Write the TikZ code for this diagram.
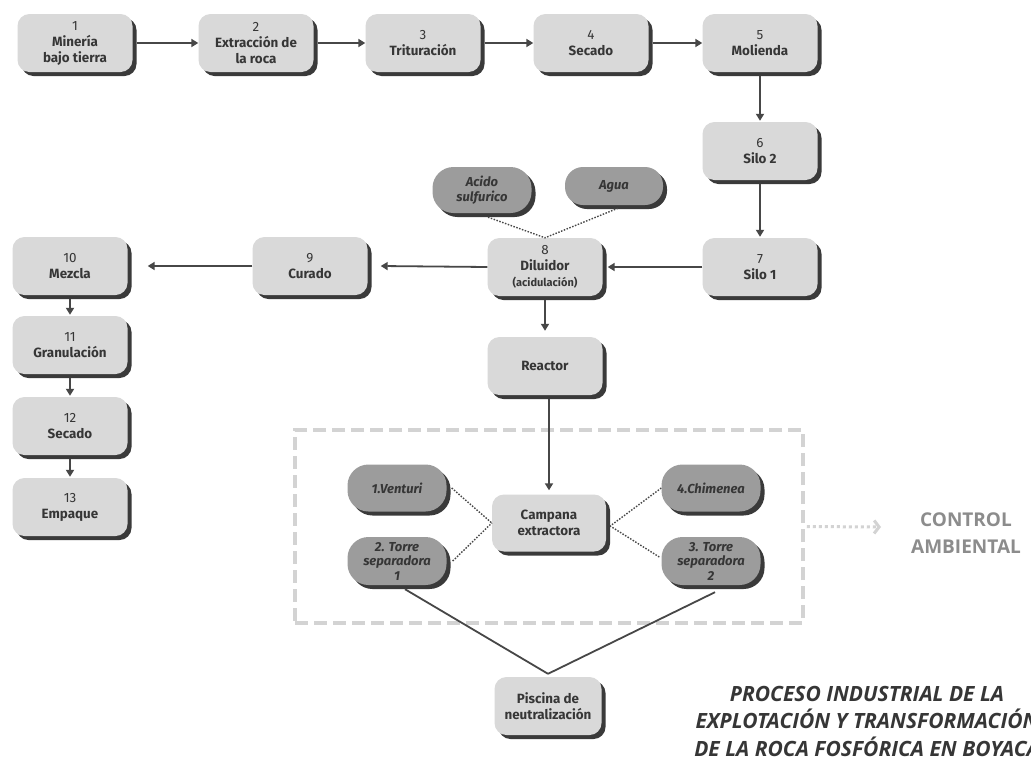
\documentclass[tikz,border=0pt]{standalone}
\usepackage{fontspec}
\setmainfont{Fira Sans}
\newfontfamily\titlefont{Open Sans}
\usetikzlibrary{shadows,arrows.meta,calc}
\definecolor{boxfill}{HTML}{D9D9D9}
\definecolor{pillfill}{HTML}{9C9C9C}
\definecolor{shadowc}{HTML}{3A3A3A}
\definecolor{txt}{HTML}{363636}
\definecolor{linec}{HTML}{474747}
\definecolor{ctrlc}{HTML}{D3D3D3}
\definecolor{ctrltxt}{HTML}{8C8C8C}
\begin{document}
\begin{tikzpicture}[x=1pt,y=-1pt,
  box/.style={rectangle, rounded corners=12pt, fill=boxfill, minimum width=115pt, minimum height=58pt,
    inner sep=2pt, align=center, text=txt, font=\fontsize{13.4}{16}\selectfont,
    drop shadow={shadow xshift=4pt, shadow yshift=-4pt, fill=shadowc, opacity=1}},
  pill/.style={rectangle, rounded corners=21pt, fill=pillfill, minimum width=99pt, minimum height=47pt,
    inner sep=2pt, align=center, text=txt, font=\bfseries\itshape\fontsize{13}{14.5}\selectfont,
    drop shadow={shadow xshift=4pt, shadow yshift=-4pt, fill=shadowc, opacity=1}},
  flow/.style={draw=linec, line width=1.8pt, -{Triangle[length=7pt,width=8pt]}},
  link/.style={draw=linec, line width=1.4pt, dash pattern=on 1.5pt off 1.5pt},
  pipe/.style={draw=linec, line width=1.8pt},
  ctrlbox/.style={draw=ctrlc, line width=3.5pt, dash pattern=on 13pt off 6pt, minimum width=508pt, minimum height=193pt, inner sep=0pt},
  ctrlarrow/.style={draw=ctrlc, line width=3pt, dash pattern=on 3pt off 3pt, -{Straight Barb[length=5pt,width=13pt,line width=3pt]}}
]
\useasboundingbox (0,0) rectangle (1031,758);
\fill[white] (0,0) rectangle (1031,758);

% control box
\node[ctrlbox] (ctrl) at (549,526.5) {};

% top row
\node[box] (n1) at (75,43) {1\\\textbf{Minería}\\\textbf{bajo tierra}};
\node[box] (n2) at (256,43) {2\\\textbf{Extracción de}\\\textbf{la roca}};
\node[box] (n3) at (423,43) {3\\\textbf{Trituración}};
\node[box] (n4) at (591,43) {4\\\textbf{Secado}};
\node[box] (n5) at (760,43) {5\\\textbf{Molienda}};
\node[box] (n6) at (760,151) {6\\\textbf{Silo 2}};
\node[box] (n7) at (760,267) {7\\\textbf{Silo 1}};
\node[box] (n8) at (545,267) {8\\\textbf{Diluidor}\\{\bfseries\fontsize{11}{12.5}\selectfont (acidulación)}};
\node[box] (n9) at (310,266) {9\\\textbf{Curado}};
\node[box] (n10) at (70,266) {10\\\textbf{Mezcla}};
\node[box] (n11) at (70,345) {11\\\textbf{Granulación}};
\node[box] (n12) at (70,426) {12\\\textbf{Secado}};
\node[box] (n13) at (70,507) {13\\\textbf{Empaque}};
\node[box] (reactor) at (545,366) {\textbf{Reactor}};
\node[box, minimum width=114pt, minimum height=57pt] (campana) at (549,523) {\textbf{Campana}\\\textbf{extractora}};
\node[box, minimum width=107pt] (piscina) at (548,706) {\textbf{Piscina de}\\\textbf{neutralización}};

% pills
\node[pill, minimum height=46pt] (acido) at (482,190) {Acido\\sulfurico};
\node[pill, minimum width=98pt, minimum height=38pt, rounded corners=18pt] (agua) at (614,186) {Agua};
\node[pill] (venturi) at (397,488) {1.Venturi};
\node[pill, minimum height=48pt] (torre1) at (397,561) {2. Torre\\separadora\\1};
\node[pill] (chimenea) at (711,488) {4.Chimenea};
\node[pill, minimum height=48pt] (torre2) at (711,561) {3. Torre\\separadora\\2};

% flow arrows
\draw[flow] (n1.east) ++(4,0) -- (n2.west);
\draw[flow] (n2.east) ++(4,0) -- (n3.west);
\draw[flow] (n3.east) ++(4,0) -- (n4.west);
\draw[flow] (n4.east) ++(4,0) -- (n5.west);
\draw[flow] (n5.south) ++(0,4) -- ($(n6.north)+(0,-1)$);
\draw[flow] (n6.south) ++(0,4) -- ($(n7.north)+(0,-1)$);
\draw[flow] (n7.west) -- ($(n8.east)+(5,0)$);
\draw[flow] (n8.west) -- ($(n9.east)+(13,0)$);
\draw[flow] (n9.west) -- ($(n10.east)+(20,0)$);
\draw[flow] (n10.south) ++(0,4) -- ($(n11.north)+(0,-1)$);
\draw[flow] (n11.south) ++(0,4) -- ($(n12.north)+(0,-1)$);
\draw[flow] (n12.south) ++(0,4) -- ($(n13.north)+(0,-1)$);
\draw[flow] (n8.south) ++(0,4) -- ($(reactor.north)+(0,-6)$);
\draw[flow] (campana.north |- reactor.south) ++(0,4) -- ($(campana.north)+(0,-4)$);

% dotted links
\draw[link] ($(acido.south)+(6,4)$) -- (n8.north);
\draw[link] ($(agua.south)+(4,3)$) -- (n8.north);
\draw[link] ($(venturi.east)+(5,0)$) -- (campana.west);
\draw[link] ($(torre1.east)+(6,0)$) -- (campana.west);
\draw[link] (chimenea.west) -- ($(campana.east)+(4,3)$);
\draw[link] ($(torre2.west)+(-2,-4)$) -- ($(campana.east)+(4,3)$);

% pipes to neutralization pool
\draw[pipe] ($(torre1.south)+(8,4)$) -- ($(piscina.north)+(0,-3)$);
\draw[pipe] ($(torre2.south)+(4,7)$) -- ($(piscina.north)+(0,-3)$);

% environmental control
\node[font=\titlefont\bfseries\fontsize{19}{27}\selectfont, text=ctrltxt, align=center] (ctrltext) at (966,533) {CONTROL\\AMBIENTAL};
\coordinate (ctrlend) at (881,527);
\draw[ctrlarrow] (ctrl.east) ++(2,0) -- (ctrlend);

% title
\node[font=\titlefont\bfseries\itshape\fontsize{21}{27.5}\selectfont, text=txt, align=center] (title) at (867,721)
  {PROCESO INDUSTRIAL DE LA\\EXPLOTACIÓN Y TRANSFORMACIÓN\\DE LA ROCA FOSFÓRICA EN BOYACÁ};
\end{tikzpicture}
\end{document}
